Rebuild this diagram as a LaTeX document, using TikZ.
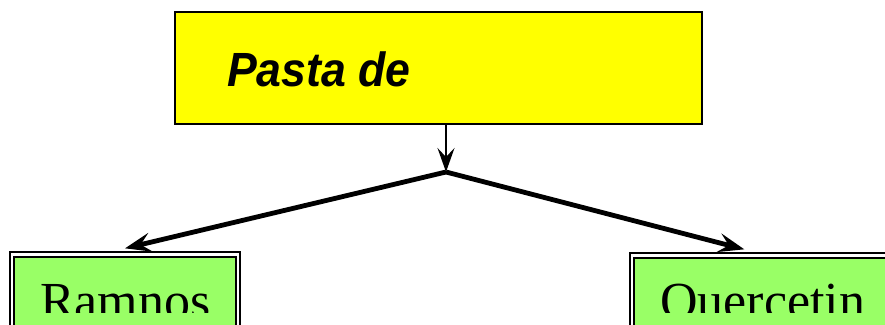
\documentclass[tikz,border=0pt]{standalone}
\usepackage{fontspec}
\setmainfont{Liberation Serif}
\newfontfamily\headfont{Liberation Sans}
\usetikzlibrary{arrows.meta,calc}
\definecolor{boxyellow}{RGB}{255,255,0}
\definecolor{boxgreen}{RGB}{153,255,102}
\tikzset{
  thinarrow/.style={line width=1.8pt,-{Stealth[length=24pt,width=17pt,inset=9pt]}},
  thickarrow/.style={line width=4.8pt,-{Stealth[length=26pt,width=19pt,inset=10pt]}},
  outerbox/.style={draw=black,line width=1.3pt,fill=white,inner sep=0pt},
  innerbox/.style={draw=black,line width=2.6pt,fill=boxgreen,inner sep=0pt},
  leaflabel/.style={font=\fontsize{52}{60}\selectfont,inner sep=0pt,anchor=base west},
}
\begin{document}
\begin{tikzpicture}[x=1pt,y=1pt]
\clip (0,0) rectangle (885,324);
\useasboundingbox (0,0) rectangle (885,324);
\fill[white] (0,0) rectangle (885,324);
% top box
\node[draw=black,line width=1.8pt,fill=boxyellow,minimum width=527pt,minimum height=112pt,inner sep=0pt] (top) at (438.5,256) {};
\node[font=\headfont\bfseries\itshape\fontsize{48}{56}\selectfont,inner sep=0pt,anchor=base west] (toptext) at (227,237) {\scalebox{0.93}[1]{Pasta de}};
% junction
\coordinate (J) at (446,152);
% leaf boxes
\node[outerbox,minimum width=230pt,minimum height=112pt] (ramOuter) at (125,16) {};
\node[innerbox,minimum width=222pt,minimum height=102pt] (ram) at (125,16) {};
\node[outerbox,minimum width=300pt,minimum height=112pt] (querOuter) at (780,15) {};
\node[innerbox,minimum width=292pt,minimum height=102pt] (quer) at (780,15) {};
\begin{scope}
\clip (0,12) rectangle (885,324);
\node[leaflabel] (ramtext) at (40,6) {Ramnos};
\node[leaflabel] (quertext) at (660,6) {Quercetin};
\end{scope}
% connectors
\draw[thinarrow] (top.south -| J) -- (J);
\draw[thickarrow] (J) -- ($(ramOuter.north)+(0,3)$);
\draw[thickarrow] (J) -- ($(querOuter.north west)+(115,3)$);
\end{tikzpicture}
\end{document}
